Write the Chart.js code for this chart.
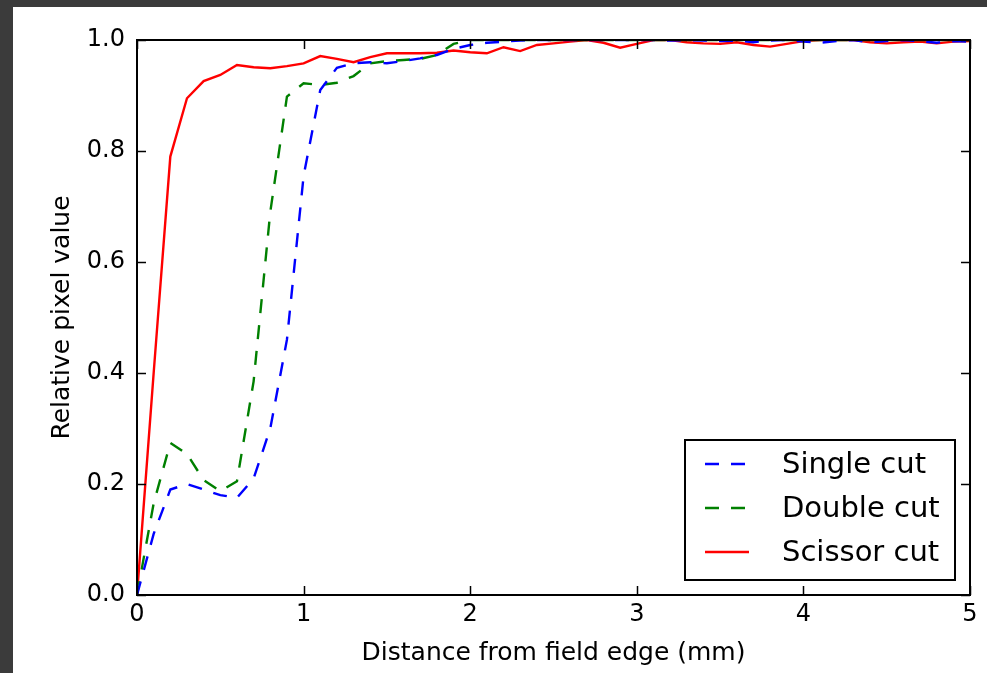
<!DOCTYPE html>
<html>
<head>
<meta charset="utf-8">
<script src="https://cdn.jsdelivr.net/npm/chart.js@4.4.0/dist/chart.umd.min.js"></script>
<style>
  html, body { margin: 0; padding: 0; background: #3b3b3b; }
  #wrap { position: relative; width: 987px; height: 673px; overflow: hidden; }
  #paper { position: absolute; left: 13px; top: 7px; right: 0; bottom: 0; background: #fff; }
  #chart { position: absolute; left: 0; top: 0; }
</style>
</head>
<body>
<div id="wrap">
  <div id="paper"></div>
  <canvas id="chart" width="987" height="673"></canvas>
</div>
<script>
const distance = [0.0, 0.1, 0.2, 0.3, 0.4, 0.5, 0.6, 0.7, 0.8, 0.9,
                  1.0, 1.1, 1.2, 1.3, 1.4, 1.5, 1.6, 1.7, 1.8, 1.9,
                  2.0, 2.1, 2.2, 2.3, 2.4, 2.5, 2.6, 2.7, 2.8, 2.9,
                  3.0, 3.1, 3.2, 3.3, 3.4, 3.5, 3.6, 3.7, 3.8, 3.9,
                  4.0, 4.1, 4.2, 4.3, 4.4, 4.5, 4.6, 4.7, 4.8, 4.9, 5.0];

const singleCut = [0.00, 0.11, 0.19, 0.20, 0.19, 0.18, 0.175, 0.21, 0.30, 0.46,
                   0.755, 0.91, 0.95, 0.958, 0.96, 0.958, 0.962, 0.967, 0.973, 0.984,
                   0.991, 0.995, 0.997, 0.999, 1.0, 1.0, 1.0, 1.0, 1.0, 1.0,
                   1.0, 1.0, 0.999, 1.0, 0.999, 0.998, 0.999, 0.996, 0.999, 1.0,
                   0.997, 0.995, 0.998, 1.0, 0.996, 0.998, 1.0, 0.998, 0.995, 0.998, 0.997];

const doubleCut = [0.00, 0.165, 0.274, 0.254, 0.207, 0.187, 0.205, 0.385, 0.69, 0.898,
                   0.922, 0.919, 0.923, 0.935, 0.958, 0.962, 0.964, 0.966, 0.973, 0.993,
                   1.0, 1.0, 1.0, 1.0, 1.0, 1.0, 1.0, 1.0, 1.0, 1.0,
                   1.0, 1.0, 1.0, 1.0, 1.0, 1.0, 1.0, 1.0, 1.0, 1.0,
                   1.0, 1.0, 1.0, 1.0, 1.0, 1.0, 1.0, 1.0, 1.0, 1.0, 1.0];

const scissorCut = [0.00, 0.40, 0.79, 0.895, 0.926, 0.937, 0.955, 0.951, 0.949, 0.953,
                    0.958, 0.971, 0.966, 0.960, 0.969, 0.976, 0.976, 0.976, 0.977, 0.981,
                    0.978, 0.976, 0.987, 0.980, 0.991, 0.994, 0.997, 1.0, 0.995, 0.986,
                    0.993, 1.0, 1.0, 0.996, 0.994, 0.993, 0.996, 0.991, 0.988, 0.993,
                    0.998, 1.0, 1.0, 1.0, 0.996, 0.994, 0.996, 0.997, 0.994, 0.997, 0.998];

const seriesLabels = ['Single cut', 'Double cut', 'Scissor cut'];
const xTitle = 'Distance from field edge (mm)';
const yTitle = 'Relative pixel value';

const FONT = '"DejaVu Sans", "Liberation Sans", sans-serif';

function points(values) {
    return distance.map((d, i) => ({ x: d, y: values[i] }));
}

// matplotlib-like box with inward ticks on all four sides, drawn over the lines
const framePlugin = {
    id: 'frame',
    afterDatasetsDraw(chart) {
        const { ctx, chartArea: a, scales: { x, y } } = chart;
        const len = 9;
        ctx.save();
        ctx.strokeStyle = '#000';
        ctx.lineWidth = 1.5;
        ctx.beginPath();
        x.ticks.forEach(t => {
            const px = Math.round(x.getPixelForValue(t.value)) + 0.5;
            ctx.moveTo(px, a.bottom); ctx.lineTo(px, a.bottom - len);
            ctx.moveTo(px, a.top); ctx.lineTo(px, a.top + len);
        });
        y.ticks.forEach(t => {
            const py = Math.round(y.getPixelForValue(t.value)) + 0.5;
            ctx.moveTo(a.left, py); ctx.lineTo(a.left + len, py);
            ctx.moveTo(a.right, py); ctx.lineTo(a.right - len, py);
        });
        ctx.stroke();
        ctx.lineWidth = 2;
        ctx.strokeRect(a.left, a.top, a.right - a.left, a.bottom - a.top);
        ctx.restore();
    }
};

// legend box in the lower right corner of the axes
const legendPlugin = {
    id: 'boxLegend',
    afterDraw(chart) {
        const { ctx, chartArea: a } = chart;
        const w = 270, h = 140;
        const bx = a.right - 15 - w, by = a.bottom - 15 - h;
        ctx.save();
        ctx.fillStyle = '#fff';
        ctx.fillRect(bx, by, w, h);
        ctx.strokeStyle = '#000';
        ctx.lineWidth = 2;
        ctx.strokeRect(bx, by, w, h);
        ctx.font = '29px ' + FONT;
        ctx.textBaseline = 'middle';
        chart.data.datasets.forEach((ds, i) => {
            const ry = by + 24 + i * 44;
            ctx.strokeStyle = ds.borderColor;
            ctx.lineWidth = ds.borderWidth;
            ctx.setLineDash(ds.borderDash || []);
            ctx.beginPath();
            ctx.moveTo(bx + 20, ry);
            ctx.lineTo(bx + 64, ry);
            ctx.stroke();
            ctx.setLineDash([]);
            ctx.fillStyle = '#000';
            ctx.fillText(ds.label, bx + 97, ry + 1);
        });
        ctx.restore();
    }
};

new Chart(document.getElementById('chart'), {
    type: 'line',
    data: {
        datasets: [
            { label: seriesLabels[0], data: points(singleCut), borderColor: '#0000ff', borderWidth: 2.4, borderDash: [14, 12] },
            { label: seriesLabels[1], data: points(doubleCut), borderColor: '#008000', borderWidth: 2.4, borderDash: [14, 12] },
            { label: seriesLabels[2], data: points(scissorCut), borderColor: '#ff0000', borderWidth: 2.4 }
        ]
    },
    options: {
        responsive: false,
        animation: false,
        devicePixelRatio: 1,
        layout: { padding: { top: 40, right: 17, left: 0, bottom: 0 } },
        elements: { point: { radius: 0 }, line: { tension: 0, fill: false } },
        plugins: { legend: { display: false }, tooltip: { enabled: false } },
        scales: {
            x: {
                type: 'linear',
                min: 0,
                max: 5,
                grid: { display: false, drawTicks: false },
                border: { display: false },
                ticks: { stepSize: 1, color: '#000', padding: 5, font: { family: FONT, size: 24 } },
                title: { display: true, text: xTitle, color: '#000', padding: { top: 0, bottom: 5 }, font: { family: FONT, size: 25 } },
                afterFit(scale) { scale.height = 78; }
            },
            y: {
                min: 0,
                max: 1,
                grid: { display: false, drawTicks: false },
                border: { display: false },
                ticks: { stepSize: 0.2, color: '#000', padding: 12, font: { family: FONT, size: 24 },
                         callback: v => v.toFixed(1) },
                title: { display: true, text: yTitle, color: '#000', padding: { top: 47, bottom: 0 }, font: { family: FONT, size: 25 } },
                afterFit(scale) { scale.width = 137; }
            }
        }
    },
    plugins: [framePlugin, legendPlugin]
});
</script>
</body>
</html>
